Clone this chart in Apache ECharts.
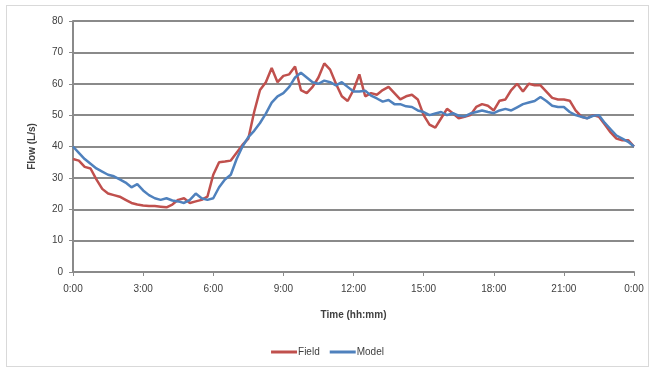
<!DOCTYPE html>
<html>
<head>
<meta charset="utf-8">
<script src="https://cdn.jsdelivr.net/npm/echarts@6/dist/echarts.min.js"></script>
<style>
  html, body { margin: 0; padding: 0; background: #fff; }
  #frame { position: absolute; left: 6px; top: 5px; width: 643px; height: 362px; border: 1px solid #d9d9d9; box-sizing: border-box; }
  #chart { width: 655px; height: 372px; position: absolute; left: 0; top: 0; }
</style>
</head>
<body>
<div id="frame"></div>
<div id="chart"></div>
<script>
// Time of day in hours, sampled every 15 minutes
const hours = [
  0, 0.25, 0.5, 0.75, 1, 1.25, 1.5, 1.75, 2, 2.25, 2.5, 2.75,
  3, 3.25, 3.5, 3.75, 4, 4.25, 4.5, 4.75, 5, 5.25, 5.5, 5.75,
  6, 6.25, 6.5, 6.75, 7, 7.25, 7.5, 7.75, 8, 8.25, 8.5, 8.75,
  9, 9.25, 9.5, 9.75, 10, 10.25, 10.5, 10.75, 11, 11.25, 11.5, 11.75,
  12, 12.25, 12.5, 12.75, 13, 13.25, 13.5, 13.75, 14, 14.25, 14.5, 14.75,
  15, 15.25, 15.5, 15.75, 16, 16.25, 16.5, 16.75, 17, 17.25, 17.5, 17.75,
  18, 18.25, 18.5, 18.75, 19, 19.25, 19.5, 19.75, 20, 20.25, 20.5, 20.75,
  21, 21.25, 21.5, 21.75, 22, 22.25, 22.5, 22.75, 23, 23.25, 23.5, 23.75, 24
];

// Measured flow (L/s)
const field = [
  36, 35.5, 33.5, 33, 29.5, 26.5, 25, 24.5, 24, 23, 22, 21.5,
  21.2, 21, 21, 20.8, 20.6, 21.5, 23, 23.5, 22, 22.5, 23, 24,
  31, 35, 35.2, 35.5, 38, 40.5, 42.5, 51, 58, 60.5, 65, 60.5,
  62.5, 63, 65.5, 58, 57, 59, 62, 66.5, 64.5, 60, 56, 54.5,
  58, 63, 56, 57, 56.5, 58, 59, 57, 55, 56, 56.5, 55,
  50, 47, 46, 49, 52, 50.6, 49, 49.5, 50, 52.6, 53.5, 53,
  51.5, 54.6, 55, 58, 60, 57.5, 60, 59.5, 59.5, 57.5, 55.5, 55,
  55, 54.6, 51.5, 49.5, 49, 50, 49.5, 47, 44.5, 42.5, 42, 42, 40
];

// Simulated flow (L/s)
const model = [
  40, 38, 36, 34.5, 33, 32, 31, 30.5, 29.5, 28.5, 27, 28,
  26, 24.5, 23.5, 23, 23.5, 22.8, 22.5, 22, 23, 25, 23.5, 23,
  23.5, 27, 29.5, 31, 36, 40, 43, 45, 47.5, 50.5, 54, 56,
  57, 59, 62, 63.5, 62, 60.5, 60, 61, 60.5, 59.5, 60.5, 59,
  57.5, 57.5, 57.8, 56.2, 55.3, 54.3, 54.8, 53.5, 53.5, 52.8, 52.6, 51.5,
  51, 50, 50.5, 51, 50, 50.6, 49.8, 49.6, 50.5, 51, 51.5, 51,
  50.6, 51.5, 52, 51.5, 52.5, 53.5, 54, 54.5, 55.8, 54.5, 53, 52.6,
  52.6, 51, 50, 49.5, 49, 49.8, 50, 47.5, 45.5, 43.5, 42.5, 41.5, 40
];

const seriesNames = ['Field', 'Model'];
const yTitle = 'Flow (L/s)';
const xTitle = 'Time (hh:mm)';

const pair = (vals) => hours.map((h, i) => [h, vals[i]]);
const fmtHour = (v) => (Math.round(v) % 24) + ':00';

const chart = echarts.init(document.getElementById('chart'), null, { renderer: 'canvas' });
const textFont = 'Liberation Sans';
const gridGray = '#8a8a8a';

chart.setOption({
  animation: false,
  backgroundColor: 'transparent',
  grid: { left: 73, right: 21, top: 21, bottom: 100 },
  legend: {
    data: seriesNames,
    bottom: 10,
    left: 'center',
    itemWidth: 26,
    itemHeight: 3,
    itemGap: 10,
    icon: 'rect',
    textStyle: { fontFamily: textFont, fontSize: 10, color: '#404040', padding: [0, 0, 0, -4] }
  },
  xAxis: {
    type: 'value',
    min: 0,
    max: 24,
    interval: 3,
    name: xTitle,
    nameLocation: 'middle',
    nameGap: 38,
    nameTextStyle: { fontFamily: textFont, fontSize: 10, fontWeight: 'bold', color: '#404040' },
    axisLine: { show: true, lineStyle: { color: gridGray, width: 2 } },
    axisTick: { show: true, length: 4, inside: false, lineStyle: { color: gridGray } },
    axisLabel: { formatter: fmtHour, fontFamily: textFont, fontSize: 10, color: '#404040', margin: 12 },
    splitLine: { show: false }
  },
  yAxis: {
    type: 'value',
    min: 0,
    max: 80,
    interval: 10,
    name: yTitle,
    nameLocation: 'middle',
    nameGap: 36,
    nameRotate: 90,
    nameTextStyle: { fontFamily: textFont, fontSize: 10, fontWeight: 'bold', color: '#404040' },
    axisLine: { show: true, lineStyle: { color: gridGray, width: 2 } },
    axisTick: { show: true, length: 4, inside: false, lineStyle: { color: gridGray } },
    axisLabel: { fontFamily: textFont, fontSize: 10, color: '#404040', margin: 10 },
    splitLine: { show: true, lineStyle: { color: gridGray, width: 2 } }
  },
  series: [
    {
      name: seriesNames[0],
      type: 'line',
      data: pair(field),
      showSymbol: false,
      symbol: 'none',
      lineStyle: { color: '#c0504d', width: 2.5 },
      itemStyle: { color: '#c0504d' },
      z: 2
    },
    {
      name: seriesNames[1],
      type: 'line',
      data: pair(model),
      showSymbol: false,
      symbol: 'none',
      lineStyle: { color: '#4f81bd', width: 2.5 },
      itemStyle: { color: '#4f81bd' },
      z: 3
    }
  ]
});
</script>
</body>
</html>
